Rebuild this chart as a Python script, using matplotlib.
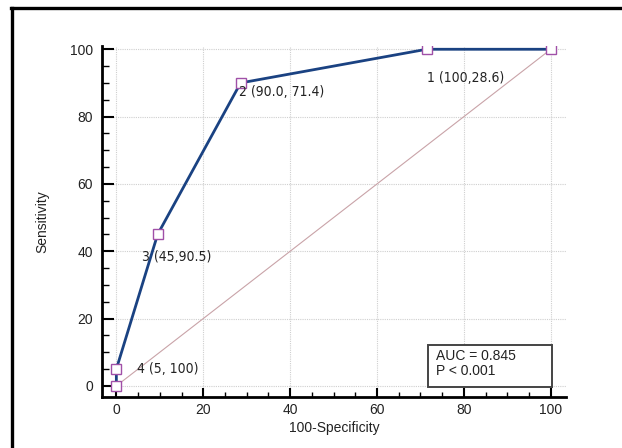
import matplotlib
matplotlib.use("Agg")
import matplotlib.pyplot as plt
from matplotlib.patches import Rectangle
from matplotlib.ticker import MultipleLocator

# ROC points (100-Specificity, Sensitivity)
fpr = [0, 0, 9.5, 28.6, 71.4, 100]
tpr = [0, 5, 45, 90, 100, 100]

# criterion labels for points (index into fpr/tpr), with offsets in points
labels = ["4 (5, 100)", "3 (45,90.5)", "2 (90.0, 71.4)", "1 (100,28.6)"]
label_idx = [1, 2, 3, 4]
label_off = [(15, 0), (-11, -16), (-1.5, -6.5), (0, -21)]

auc_text = "AUC = 0.845\nP < 0.001"

plt.rcParams["font.family"] = ["Liberation Sans", "DejaVu Sans"]

fig = plt.figure(figsize=(6.22, 4.48), dpi=100)
ax = fig.add_axes([0.164, 0.1138, 0.746, 0.783])

# outer frame (top and left edges only)
fig.add_artist(plt.Line2D([0.019, 0.019], [0, 0.983], transform=fig.transFigure,
                          color="black", lw=2.4))
fig.add_artist(plt.Line2D([0.017, 1.0], [0.983, 0.983], transform=fig.transFigure,
                          color="black", lw=2.4))

ax.plot([0, 100], [0, 100], color="#c9a3a8", lw=0.8, zorder=2)
ax.plot(fpr, tpr, color="#1a4282", lw=2.0, zorder=3)
ax.plot(fpr, tpr, ls="none", marker="s", ms=6.5, mfc="white", mec="#a050a8",
        mew=1.0, zorder=4)

for lab, i, off in zip(labels, label_idx, label_off):
    ax.annotate(lab, (fpr[i], tpr[i]), xytext=off, textcoords="offset points",
                ha="left", va="center", fontsize=10, fontstretch="condensed",
                family="DejaVu Sans", color="#222222", zorder=5)

ax.add_patch(Rectangle((0.7026, 0.0285), 0.267, 0.12, transform=ax.transAxes,
                       facecolor="white", edgecolor="#444444", lw=1.4, zorder=5))
ax.text(0.7205, 0.136, auc_text, transform=ax.transAxes, ha="left", va="top",
        fontsize=10, linespacing=1.05, color="#222222", zorder=6)

ax.set_xlim(-3.3, 103.5)
ax.set_ylim(-3.3, 100.9)
ax.xaxis.set_major_locator(MultipleLocator(20))
ax.xaxis.set_minor_locator(MultipleLocator(5))
ax.yaxis.set_major_locator(MultipleLocator(20))
ax.yaxis.set_minor_locator(MultipleLocator(5))

ax.grid(True, which="major", color="#cfcfcf", ls=(0, (1, 1)), lw=0.8)
ax.set_axisbelow(True)

for s in ["top", "right"]:
    ax.spines[s].set_visible(False)
for s in ["left", "bottom"]:
    ax.spines[s].set_linewidth(2.0)

ax.tick_params(axis="x", which="major", direction="in", length=6.5, width=1.5,
               pad=4, labelsize=10, colors="black", labelcolor="#222222")
ax.tick_params(axis="x", which="minor", direction="in", length=3.5, width=1.0)
ax.tick_params(axis="y", which="major", direction="in", length=8.5, width=1.5,
               pad=6.5, labelsize=10, colors="black", labelcolor="#222222")
ax.tick_params(axis="y", which="minor", direction="in", length=5, width=1.0)

ax.set_xlabel("100-Specificity", fontsize=10, color="#222222", labelpad=3)
ax.set_ylabel("Sensitivity", fontsize=10, color="#222222", labelpad=15)

fig.savefig("out.png", dpi=100)
